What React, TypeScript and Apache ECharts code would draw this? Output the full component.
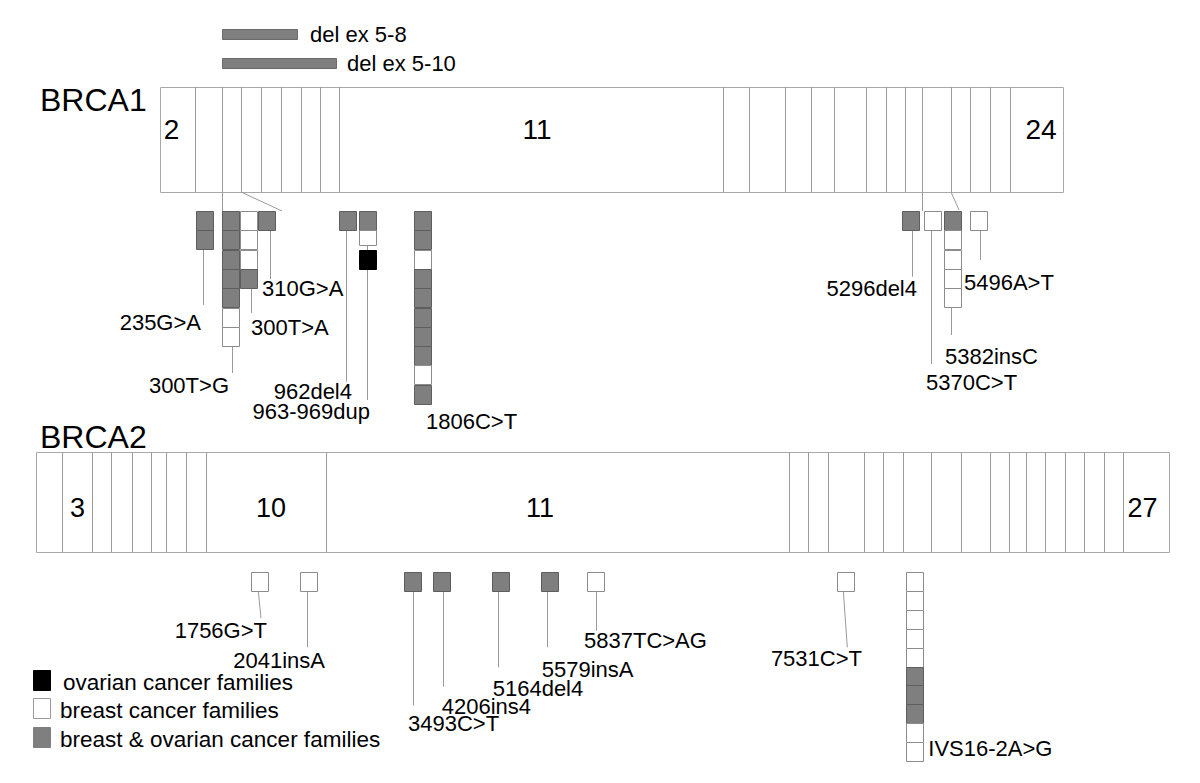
import React, { useEffect, useRef } from "react";
import * as echarts from "echarts";

const FONT = '"Liberation Sans", Arial, Helvetica, sans-serif';

// ---- Gene bars (diagram units) ----
const GENES = ["BRCA1", "BRCA2"];
const GENE_TITLE_X = [40, 40];
const GENE_TITLE_Y = [100, 437];
const GENE_TOP = [87, 452];
const GENE_BOTTOM = [192, 552];
const BRCA1_BOUNDS = [160, 195, 222, 241, 261, 281, 301, 320, 339, 723, 749, 785, 811, 834, 866, 886, 905, 922, 951, 970, 990, 1010, 1063];
const BRCA2_BOUNDS = [36, 62, 92, 111, 132, 151, 166, 186, 206, 326, 789, 808, 828, 864, 883, 903, 931, 961, 990, 1009, 1026, 1045, 1065, 1084, 1104, 1123, 1169];
const BRCA1_EXON_LABELS = ["2", "11", "24"];
const BRCA1_EXON_LABEL_X = [171.5, 537, 1041];
const BRCA2_EXON_LABELS = ["3", "10", "11", "27"];
const BRCA2_EXON_LABEL_X = [77.5, 271, 540, 1142.5];
const EXON_LABEL_Y = [129, 508];

// connectors from BRCA1 exons to mutation area
const CONN_X0 = [222, 241, 922, 951];
const CONN_X1 = [222, 282, 922, 959];
const CONN_Y0 = [192, 192, 192, 192];
const CONN_Y1 = [211, 211, 211, 210];

// ---- BRCA1 mutations ----
// cells top-to-bottom: G = breast & ovarian, W = breast, B = ovarian, w = short breast
const B1_NAMES = ["235G>A", "300T>G", "300T>A", "310G>A", "962del4", "963-969dup", "1806C>T", "5296del4", "5370C>T", "5382insC", "5496A>T"];
const B1_X = [196, 222, 239.5, 257.7, 339, 359, 414, 902.3, 924.3, 944.3, 970];
const B1_CELLS = ["GG", "GGGGGWW", "WWWG", "G", "G", "GwB", "GGWGGGGGWG", "G", "W", "GWWWW", "W"];
const B1_LINE_X0 = [203, 231.5, 251, 270, 345.7, 366.7, null, 911.7, 931, 951, 980];
const B1_LINE_X1 = [203, 231.5, 251, 270, 345.7, 366.7, null, 911.7, 931, 951, 980];
const B1_LINE_Y0 = [null, null, null, null, null, 231, null, null, null, null, null];
const B1_LINE_Y1 = [305, 373, 313, 279, 381.7, 400, null, 276.7, 364, 335, 260];
const B1_LABEL_X = [201, 229, 251, 262, 352, 370, 426, 917, 926, 945, 964];
const B1_LABEL_Y = [322, 385, 327, 288, 391, 411, 421, 288, 382, 356, 282];
const B1_LABEL_ALIGN = ["right", "right", "left", "left", "right", "right", "left", "right", "left", "left", "left"];
const B1_TOP = 211;

// ---- BRCA2 mutations ----
const B2_NAMES = ["1756G>T", "2041insA", "3493C>T", "4206ins4", "5164del4", "5579insA", "5837TC>AG", "7531C>T", "IVS16-2A>G"];
const B2_X = [251, 300, 404, 433.3, 492, 541, 586.7, 836.7, 905.7];
const B2_CELLS = ["W", "W", "G", "G", "G", "G", "W", "W", "WWWWWGGGWW"];
const B2_LINE_X0 = [258.3, 306.7, 413.3, 443.3, 498.3, 547.3, 596, 843.3, null];
const B2_LINE_X1 = [261, 306.7, 413.3, 443.3, 498.3, 547.3, 596, 847.3, null];
const B2_LINE_Y1 = [618.3, 647.3, 705.7, 686.7, 667.3, 647.3, 630.7, 647.3, null];
const B2_LABEL_X = [267, 325, 408, 441.7, 492.7, 541.7, 584, 862, 928.3];
const B2_LABEL_Y = [630.7, 660, 723.3, 706.7, 688.3, 669.3, 640, 658.3, 748.3];
const B2_LABEL_ALIGN = ["right", "right", "left", "left", "left", "left", "left", "right", "left"];
const B2_TOP = 572;

// ---- Large deletions ----
const DEL_LABELS = ["del ex 5-8", "del ex 5-10"];
const DEL_X0 = [222, 222];
const DEL_X1 = [297, 336];
const DEL_Y = [34, 63];
const DEL_LABEL_X = [310, 347];

// ---- Legend ----
const LEGEND_LABELS = ["ovarian cancer families", "breast cancer families", "breast & ovarian cancer families"];
const LEGEND_KIND = ["B", "W", "G"];
const LEGEND_Y = [680, 708, 737];
const LEGEND_TEXT_X = [63, 60, 60];

// ---- styles ----
const GRAY = "#7f7f7f";
const fillOf = (c: string) => (c === "G" ? GRAY : c === "B" ? "#000000" : "#ffffff");
const strokeOf = (c: string) => (c === "G" ? "#5e5e5e" : c === "B" ? "#000000" : "#8c8c8c");
const LINE = "#9a9a9a";
const crisp = (v: number) => Math.round(v) + 0.5;

function rectEl(api: any, x0: number, y0: number, x1: number, y1: number, style: any) {
  const a = api.coord([x0, y0]);
  const b = api.coord([x1, y1]);
  return {
    type: "rect",
    shape: { x: crisp(a[0]), y: crisp(a[1]), width: Math.round(b[0] - a[0]), height: Math.round(b[1] - a[1]) },
    style,
  };
}
function lineEl(api: any, x0: number, y0: number, x1: number, y1: number, stroke = LINE) {
  const a = api.coord([x0, y0]);
  const b = api.coord([x1, y1]);
  const vert = Math.abs(a[0] - b[0]) < 0.01;
  return {
    type: "line",
    shape: {
      x1: vert ? crisp(a[0]) : a[0],
      y1: a[1],
      x2: vert ? crisp(b[0]) : b[0],
      y2: b[1],
    },
    style: { stroke, lineWidth: 1 },
  };
}
function textEl(api: any, x: number, y: number, text: string, size: number, align = "left") {
  const p = api.coord([x, y]);
  return {
    type: "text",
    x: p[0],
    y: p[1],
    style: {
      text,
      fill: "#000",
      font: `${size}px ${FONT}`,
      align,
      verticalAlign: "middle",
      textAlign: align,
      textVerticalAlign: "middle",
    },
  };
}

function renderGene(params: any, api: any) {
  const g = params.dataIndex;
  const bounds = g === 0 ? BRCA1_BOUNDS : BRCA2_BOUNDS;
  const top = GENE_TOP[g];
  const bot = GENE_BOTTOM[g];
  const children: any[] = [];
  children.push(rectEl(api, bounds[0], top, bounds[bounds.length - 1], bot, { fill: "#fff", stroke: "#a8a8a8", lineWidth: 1 }));
  for (let i = 1; i < bounds.length - 1; i++) {
    children.push(lineEl(api, bounds[i], top, bounds[i], bot, "#9c9c9c"));
  }
  children.push(textEl(api, GENE_TITLE_X[g], GENE_TITLE_Y[g], GENES[g], 32));
  const labels = g === 0 ? BRCA1_EXON_LABELS : BRCA2_EXON_LABELS;
  const lx = g === 0 ? BRCA1_EXON_LABEL_X : BRCA2_EXON_LABEL_X;
  labels.forEach((t, i) => children.push(textEl(api, lx[i], EXON_LABEL_Y[g], t, g === 0 ? 28 : 27, "center")));
  return { type: "group", children };
}

function renderConn(params: any, api: any) {
  const i = params.dataIndex;
  return lineEl(api, CONN_X0[i], CONN_Y0[i], CONN_X1[i], CONN_Y1[i]);
}

function makeMutationRenderer(
  xs: number[], cells: string[], top: number, cellW: number, cellH: number,
  lx0: (number | null)[], lx1: (number | null)[], ly0: (number | null)[] | null, ly1: (number | null)[],
  labX: number[], labY: number[], labAlign: string[], names: string[]
) {
  return (params: any, api: any) => {
    const i = params.dataIndex;
    const children: any[] = [];
    const col = cells[i];
    const bottom = top + col.length * cellH;
    if (lx0[i] != null) {
      const y0 = ly0 && ly0[i] != null ? (ly0[i] as number) : bottom;
      children.push(lineEl(api, lx0[i] as number, y0, lx1[i] as number, ly1[i] as number));
    }
    for (let k = 0; k < col.length; k++) {
      const c = col[k];
      const kind = c === "w" ? "W" : c;
      const h = c === "w" ? cellH * 0.8 : cellH;
      children.push(
        rectEl(api, xs[i], top + k * cellH, xs[i] + cellW, top + k * cellH + h, {
          fill: fillOf(kind),
          stroke: strokeOf(kind),
          lineWidth: 1,
        })
      );
    }
    children.push(textEl(api, labX[i], labY[i], names[i], 22, labAlign[i]));
    return { type: "group", children };
  };
}

function renderDel(params: any, api: any) {
  const i = params.dataIndex;
  return {
    type: "group",
    children: [
      rectEl(api, DEL_X0[i], DEL_Y[i] - 5, DEL_X1[i], DEL_Y[i] + 5, { fill: GRAY, stroke: "#6a6a6a", lineWidth: 1 }),
      textEl(api, DEL_LABEL_X[i], DEL_Y[i], DEL_LABELS[i], 22),
    ],
  };
}

function renderLegend(params: any, api: any) {
  const i = params.dataIndex;
  const k = LEGEND_KIND[i];
  return {
    type: "group",
    children: [
      rectEl(api, 33, LEGEND_Y[i] - 10, 50, LEGEND_Y[i] + 10, { fill: fillOf(k), stroke: k === "W" ? "#9a9a9a" : fillOf(k), lineWidth: 1 }),
      textEl(api, LEGEND_TEXT_X[i], LEGEND_Y[i] + 2, LEGEND_LABELS[i], 22.5),
    ],
  };
}

const option: any = {
  animation: false,
  backgroundColor: "#ffffff",
  grid: { left: 0, right: 0, top: 0, bottom: 0, containLabel: false },
  xAxis: { type: "value", min: 0, max: 1200, show: false },
  yAxis: { type: "value", min: 0, max: 783, inverse: true, show: false },
  series: [
    {
      type: "custom", name: "genes", silent: true,
      data: GENES.map((_, i) => [i === 0 ? BRCA1_BOUNDS[0] : BRCA2_BOUNDS[0], GENE_TOP[i]]),
      renderItem: renderGene,
    },
    {
      type: "custom", name: "connectors", silent: true,
      data: CONN_X0.map((x, i) => [x, CONN_Y0[i]]),
      renderItem: renderConn,
    },
    {
      type: "custom", name: "BRCA1 mutations", silent: true,
      data: B1_X.map((x) => [x, B1_TOP]),
      renderItem: makeMutationRenderer(B1_X, B1_CELLS, B1_TOP, 17, 19.3, B1_LINE_X0, B1_LINE_X1, B1_LINE_Y0, B1_LINE_Y1, B1_LABEL_X, B1_LABEL_Y, B1_LABEL_ALIGN, B1_NAMES),
    },
    {
      type: "custom", name: "BRCA2 mutations", silent: true,
      data: B2_X.map((x) => [x, B2_TOP]),
      renderItem: makeMutationRenderer(B2_X, B2_CELLS, B2_TOP, 16.7, 18.9, B2_LINE_X0, B2_LINE_X1, null, B2_LINE_Y1, B2_LABEL_X, B2_LABEL_Y, B2_LABEL_ALIGN, B2_NAMES),
    },
    {
      type: "custom", name: "deletions", silent: true,
      data: DEL_X0.map((x, i) => [x, DEL_Y[i]]),
      renderItem: renderDel,
    },
    {
      type: "custom", name: "legend", silent: true,
      data: LEGEND_Y.map((y) => [33, y]),
      renderItem: renderLegend,
    },
  ],
};

export default function App() {
  const ref = useRef<HTMLDivElement>(null);
  useEffect(() => {
    const chart = echarts.init(ref.current as HTMLDivElement, null, { renderer: "svg" });
    chart.setOption(option);
    return () => chart.dispose();
  }, []);
  return (
    <div
      ref={ref}
      style={{ position: "fixed", left: 0, top: 0, width: 1200, height: 783, background: "#fff" }}
    />
  );
}
